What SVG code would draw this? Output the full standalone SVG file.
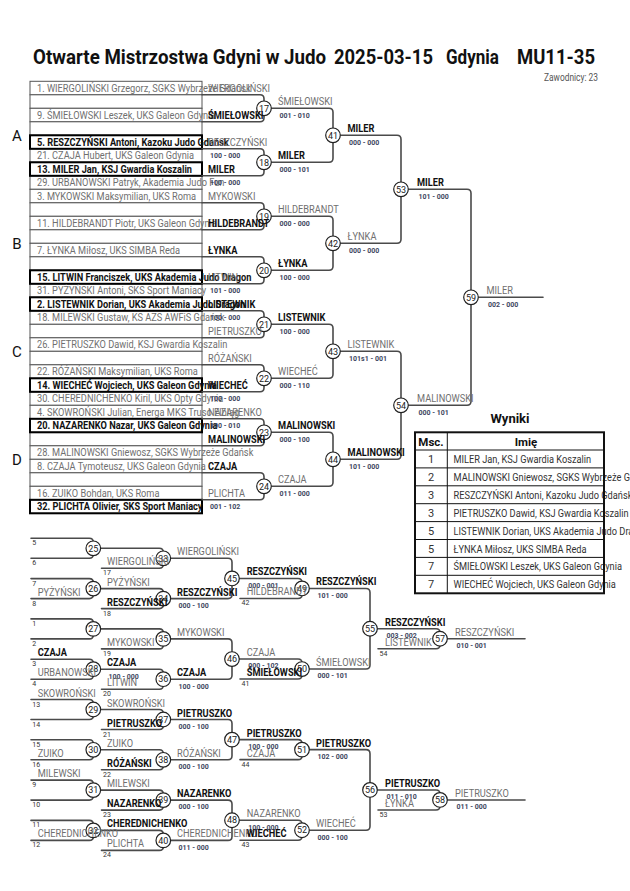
<svg xmlns="http://www.w3.org/2000/svg" width="630" height="891" viewBox="0 0 630 891">
<style>
text{font-family:Roboto,"Liberation Sans",sans-serif}
.ln{fill:none;stroke:#4a4a4a;stroke-width:1.6;stroke-linecap:round}
.cir{fill:#fff;stroke:#222;stroke-width:1.2}
.cn{font-size:9px;fill:#222;text-anchor:middle}
.g{font-size:11px;fill:#707070}
.b{font-size:11px;font-weight:700;fill:#111}
.sc{font-size:7px;font-weight:700;fill:#3d4660}
.sn{font-size:7px;fill:#333}
.row{fill:#fff;stroke:#555;stroke-width:1}
.rowb{fill:none;stroke:#000;stroke-width:2}
.ttl{font-size:19.5px;font-weight:700;fill:#111}
.grp{font-size:15px;fill:#111;text-anchor:middle}
.tb{fill:none;stroke:#111;stroke-width:1}
.tn{font-size:11px;fill:#333}
.th{font-size:11.5px;font-weight:700;fill:#111;text-anchor:middle}
</style>
<rect width="630" height="891" fill="#fff"/>

<g id="title">
<text class="ttl" transform="matrix(.96 0 0 1 33 64.3)">Otwarte Mistrzostwa Gdyni w Judo</text>
<text class="ttl" x="334" y="64.3" textLength="99" lengthAdjust="spacingAndGlyphs">2025-03-15</text>
<text class="ttl" x="446" y="64.3" textLength="53" lengthAdjust="spacingAndGlyphs">Gdynia</text>
<text class="ttl" x="517" y="64.3" textLength="78" lengthAdjust="spacingAndGlyphs">MU11-35</text>
<text style="font-size:10px;fill:#555;text-anchor:end" transform="matrix(.84 0 0 1 598 80.5)">Zawodnicy: 23</text>
</g>

<g id="groups">
<text class="grp" x="17" y="140.5">A</text>
<text class="grp" x="17" y="248.5">B</text>
<text class="grp" x="17" y="356.5">C</text>
<text class="grp" x="17" y="464.5">D</text>
</g>

<g id="draw-table">
<rect class="row" x="30" y="81.3" width="172" height="13.5"/>
<rect class="row" x="30" y="94.8" width="172" height="13.5"/>
<rect class="row" x="30" y="108.3" width="172" height="13.5"/>
<rect class="row" x="30" y="121.8" width="172" height="13.5"/>
<rect class="row" x="30" y="135.3" width="172" height="13.5"/>
<rect class="row" x="30" y="148.8" width="172" height="13.5"/>
<rect class="row" x="30" y="162.3" width="172" height="13.5"/>
<rect class="row" x="30" y="175.8" width="172" height="13.5"/>
<rect class="row" x="30" y="189.3" width="172" height="13.5"/>
<rect class="row" x="30" y="202.8" width="172" height="13.5"/>
<rect class="row" x="30" y="216.3" width="172" height="13.5"/>
<rect class="row" x="30" y="229.8" width="172" height="13.5"/>
<rect class="row" x="30" y="243.3" width="172" height="13.5"/>
<rect class="row" x="30" y="256.8" width="172" height="13.5"/>
<rect class="row" x="30" y="270.3" width="172" height="13.5"/>
<rect class="row" x="30" y="283.8" width="172" height="13.5"/>
<rect class="row" x="30" y="297.3" width="172" height="13.5"/>
<rect class="row" x="30" y="310.8" width="172" height="13.5"/>
<rect class="row" x="30" y="324.3" width="172" height="13.5"/>
<rect class="row" x="30" y="337.8" width="172" height="13.5"/>
<rect class="row" x="30" y="351.3" width="172" height="13.5"/>
<rect class="row" x="30" y="364.8" width="172" height="13.5"/>
<rect class="row" x="30" y="378.3" width="172" height="13.5"/>
<rect class="row" x="30" y="391.8" width="172" height="13.5"/>
<rect class="row" x="30" y="405.3" width="172" height="13.5"/>
<rect class="row" x="30" y="418.8" width="172" height="13.5"/>
<rect class="row" x="30" y="432.3" width="172" height="13.5"/>
<rect class="row" x="30" y="445.8" width="172" height="13.5"/>
<rect class="row" x="30" y="459.3" width="172" height="13.5"/>
<rect class="row" x="30" y="472.8" width="172" height="13.5"/>
<rect class="row" x="30" y="486.3" width="172" height="13.5"/>
<rect class="row" x="30" y="499.8" width="172" height="13.5"/>
<rect class="rowb" x="30" y="135.3" width="172" height="13.5"/>
<rect class="rowb" x="30" y="162.3" width="172" height="13.5"/>
<rect class="rowb" x="30" y="270.3" width="172" height="13.5"/>
<rect class="rowb" x="30" y="297.3" width="172" height="13.5"/>
<rect class="rowb" x="30" y="378.3" width="172" height="13.5"/>
<rect class="rowb" x="30" y="418.8" width="172" height="13.5"/>
<rect class="rowb" x="30" y="499.8" width="172" height="13.5"/>
</g>

<g id="connectors">
<path class="ln" d="M202 94.8H260Q264 94.8 264 98.8V117.8Q264 121.8 260 121.8H202"/>
<path class="ln" d="M202 148.8H260Q264 148.8 264 152.8V171.8Q264 175.8 260 175.8H202"/>
<path class="ln" d="M202 202.8H260Q264 202.8 264 206.8V225.8Q264 229.8 260 229.8H202"/>
<path class="ln" d="M202 256.8H260Q264 256.8 264 260.8V279.8Q264 283.8 260 283.8H202"/>
<path class="ln" d="M202 310.8H260Q264 310.8 264 314.8V333.8Q264 337.8 260 337.8H202"/>
<path class="ln" d="M202 364.8H260Q264 364.8 264 368.8V387.8Q264 391.8 260 391.8H202"/>
<path class="ln" d="M202 418.8H260Q264 418.8 264 422.8V441.8Q264 445.8 260 445.8H202"/>
<path class="ln" d="M202 472.8H260Q264 472.8 264 476.8V495.8Q264 499.8 260 499.8H202"/>
<path class="ln" d="M264 108.3H329Q333 108.3 333 112.3V158.3Q333 162.3 329 162.3H264"/>
<path class="ln" d="M264 216.3H329Q333 216.3 333 220.3V266.3Q333 270.3 329 270.3H264"/>
<path class="ln" d="M264 324.3H329Q333 324.3 333 328.3V374.3Q333 378.3 329 378.3H264"/>
<path class="ln" d="M264 432.3H329Q333 432.3 333 436.3V482.3Q333 486.3 329 486.3H264"/>
<path class="ln" d="M333 135.3H397Q401 135.3 401 139.3V239.3Q401 243.3 397 243.3H333"/>
<path class="ln" d="M333 351.3H397Q401 351.3 401 355.3V455.3Q401 459.3 397 459.3H333"/>
<path class="ln" d="M401 189.3H467Q471 189.3 471 193.3V401.3Q471 405.3 467 405.3H401"/>
<path class="ln" d="M471 297.3H543"/>

<path class="ln" d="M31 538.3H89.3Q93.3 538.3 93.3 542.3V554.3Q93.3 558.3 89.3 558.3H31"/>
<path class="ln" d="M31 578.6H89.3Q93.3 578.6 93.3 582.6V594.6Q93.3 598.6 89.3 598.6H31"/>
<path class="ln" d="M31 618.9H89.3Q93.3 618.9 93.3 622.9V634.9Q93.3 638.9 89.3 638.9H31"/>
<path class="ln" d="M31 659.2H89.3Q93.3 659.2 93.3 663.2V675.2Q93.3 679.2 89.3 679.2H31"/>
<path class="ln" d="M31 699.5H89.3Q93.3 699.5 93.3 703.5V715.5Q93.3 719.5 89.3 719.5H31"/>
<path class="ln" d="M31 739.8H89.3Q93.3 739.8 93.3 743.8V755.8Q93.3 759.8 89.3 759.8H31"/>
<path class="ln" d="M31 780.1H89.3Q93.3 780.1 93.3 784.1V796.1Q93.3 800.1 89.3 800.1H31"/>
<path class="ln" d="M31 820.4H89.3Q93.3 820.4 93.3 824.4V836.4Q93.3 840.4 89.3 840.4H31"/>
<path class="ln" d="M93.3 548.3H159.3Q163.3 548.3 163.3 552.3V564.3Q163.3 568.3 159.3 568.3H101.5"/>
<path class="ln" d="M93.3 588.6H159.3Q163.3 588.6 163.3 592.6V604.6Q163.3 608.6 159.3 608.6H101.5"/>
<path class="ln" d="M93.3 628.9H159.3Q163.3 628.9 163.3 632.9V644.9Q163.3 648.9 159.3 648.9H101.5"/>
<path class="ln" d="M93.3 669.2H159.3Q163.3 669.2 163.3 673.2V685.2Q163.3 689.2 159.3 689.2H101.5"/>
<path class="ln" d="M93.3 709.5H159.3Q163.3 709.5 163.3 713.5V725.5Q163.3 729.5 159.3 729.5H101.5"/>
<path class="ln" d="M93.3 749.8H159.3Q163.3 749.8 163.3 753.8V765.8Q163.3 769.8 159.3 769.8H101.5"/>
<path class="ln" d="M93.3 790.1H159.3Q163.3 790.1 163.3 794.1V806.1Q163.3 810.1 159.3 810.1H101.5"/>
<path class="ln" d="M93.3 830.4H159.3Q163.3 830.4 163.3 834.4V846.4Q163.3 850.4 159.3 850.4H101.5"/>
<path class="ln" d="M163.3 558.3H228Q232 558.3 232 562.3V594.6Q232 598.6 228 598.6H163.3"/>
<path class="ln" d="M163.3 638.9H228Q232 638.9 232 642.9V675.2Q232 679.2 228 679.2H163.3"/>
<path class="ln" d="M163.3 719.5H228Q232 719.5 232 723.5V755.8Q232 759.8 228 759.8H163.3"/>
<path class="ln" d="M163.3 800.1H228Q232 800.1 232 804.1V836.4Q232 840.4 228 840.4H163.3"/>
<path class="ln" d="M232 578.45H298Q302 578.45 302 582.45V594.45Q302 598.45 298 598.45H240"/>
<path class="ln" d="M232 659.05H298Q302 659.05 302 663.05V675.05Q302 679.05 298 679.05H240"/>
<path class="ln" d="M232 739.65H298Q302 739.65 302 743.65V755.65Q302 759.65 298 759.65H240"/>
<path class="ln" d="M232 820.25H298Q302 820.25 302 824.25V836.25Q302 840.25 298 840.25H240"/>
<path class="ln" d="M302 588.45H366Q370 588.45 370 592.45V665.05Q370 669.05 366 669.05H302"/>
<path class="ln" d="M302 749.65H366Q370 749.65 370 753.65V826.25Q370 830.25 366 830.25H302"/>
<path class="ln" d="M370 628.75H436Q440 628.75 440 632.75V644.75Q440 648.75 436 648.75H378"/>
<path class="ln" d="M370 789.95H436Q440 789.95 440 793.95V805.95Q440 809.95 436 809.95H378"/>
<path class="ln" d="M440 638.75H525"/>
<path class="ln" d="M440 799.95H525"/>
</g>

<g id="matches">
<g id="m17"><circle class="cir" cx="264" cy="108.3" r="7.3"/><text class="cn" x="264" y="111.5">17</text></g>
<g id="m18"><circle class="cir" cx="264" cy="162.3" r="7.3"/><text class="cn" x="264" y="165.5">18</text></g>
<g id="m19"><circle class="cir" cx="264" cy="216.3" r="7.3"/><text class="cn" x="264" y="219.5">19</text></g>
<g id="m20"><circle class="cir" cx="264" cy="270.3" r="7.3"/><text class="cn" x="264" y="273.5">20</text></g>
<g id="m21"><circle class="cir" cx="264" cy="324.3" r="7.3"/><text class="cn" x="264" y="327.5">21</text></g>
<g id="m22"><circle class="cir" cx="264" cy="378.3" r="7.3"/><text class="cn" x="264" y="381.5">22</text></g>
<g id="m23"><circle class="cir" cx="264" cy="432.3" r="7.3"/><text class="cn" x="264" y="435.5">23</text></g>
<g id="m24"><circle class="cir" cx="264" cy="486.3" r="7.3"/><text class="cn" x="264" y="489.5">24</text></g>
<g id="m41"><circle class="cir" cx="333" cy="135.3" r="7.3"/><text class="cn" x="333" y="138.5">41</text></g>
<g id="m42"><circle class="cir" cx="333" cy="243.3" r="7.3"/><text class="cn" x="333" y="246.5">42</text></g>
<g id="m43"><circle class="cir" cx="333" cy="351.3" r="7.3"/><text class="cn" x="333" y="354.5">43</text></g>
<g id="m44"><circle class="cir" cx="333" cy="459.3" r="7.3"/><text class="cn" x="333" y="462.5">44</text></g>
<g id="m53"><circle class="cir" cx="401" cy="189.3" r="7.3"/><text class="cn" x="401" y="192.5">53</text></g>
<g id="m54"><circle class="cir" cx="401" cy="405.3" r="7.3"/><text class="cn" x="401" y="408.5">54</text></g>
<g id="m59"><circle class="cir" cx="471" cy="297.3" r="7.3"/><text class="cn" x="471" y="300.5">59</text></g>
<g id="m25"><circle class="cir" cx="93.3" cy="548.3" r="7.3"/><text class="cn" x="93.3" y="551.5">25</text></g>
<g id="m26"><circle class="cir" cx="93.3" cy="588.6" r="7.3"/><text class="cn" x="93.3" y="591.8">26</text></g>
<g id="m27"><circle class="cir" cx="93.3" cy="628.9" r="7.3"/><text class="cn" x="93.3" y="632.1">27</text></g>
<g id="m28"><circle class="cir" cx="93.3" cy="669.2" r="7.3"/><text class="cn" x="93.3" y="672.4">28</text></g>
<g id="m29"><circle class="cir" cx="93.3" cy="709.5" r="7.3"/><text class="cn" x="93.3" y="712.7">29</text></g>
<g id="m30"><circle class="cir" cx="93.3" cy="749.8" r="7.3"/><text class="cn" x="93.3" y="753">30</text></g>
<g id="m31"><circle class="cir" cx="93.3" cy="790.1" r="7.3"/><text class="cn" x="93.3" y="793.3">31</text></g>
<g id="m32"><circle class="cir" cx="93.3" cy="830.4" r="7.3"/><text class="cn" x="93.3" y="833.6">32</text></g>
<g id="m33"><circle class="cir" cx="163.3" cy="558.3" r="7.3"/><text class="cn" x="163.3" y="561.5">33</text></g>
<g id="m34"><circle class="cir" cx="163.3" cy="598.6" r="7.3"/><text class="cn" x="163.3" y="601.8">34</text></g>
<g id="m35"><circle class="cir" cx="163.3" cy="638.9" r="7.3"/><text class="cn" x="163.3" y="642.1">35</text></g>
<g id="m36"><circle class="cir" cx="163.3" cy="679.2" r="7.3"/><text class="cn" x="163.3" y="682.4">36</text></g>
<g id="m37"><circle class="cir" cx="163.3" cy="719.5" r="7.3"/><text class="cn" x="163.3" y="722.7">37</text></g>
<g id="m38"><circle class="cir" cx="163.3" cy="759.8" r="7.3"/><text class="cn" x="163.3" y="763">38</text></g>
<g id="m39"><circle class="cir" cx="163.3" cy="800.1" r="7.3"/><text class="cn" x="163.3" y="803.3">39</text></g>
<g id="m40"><circle class="cir" cx="163.3" cy="840.4" r="7.3"/><text class="cn" x="163.3" y="843.6">40</text></g>
<g id="m45"><circle class="cir" cx="232" cy="578.45" r="7.3"/><text class="cn" x="232" y="581.65">45</text></g>
<g id="m46"><circle class="cir" cx="232" cy="659.05" r="7.3"/><text class="cn" x="232" y="662.25">46</text></g>
<g id="m47"><circle class="cir" cx="232" cy="739.65" r="7.3"/><text class="cn" x="232" y="742.85">47</text></g>
<g id="m48"><circle class="cir" cx="232" cy="820.25" r="7.3"/><text class="cn" x="232" y="823.45">48</text></g>
<g id="m49"><circle class="cir" cx="302" cy="588.45" r="7.3"/><text class="cn" x="302" y="591.65">49</text></g>
<g id="m50"><circle class="cir" cx="302" cy="669.05" r="7.3"/><text class="cn" x="302" y="672.25">50</text></g>
<g id="m51"><circle class="cir" cx="302" cy="749.65" r="7.3"/><text class="cn" x="302" y="752.85">51</text></g>
<g id="m52"><circle class="cir" cx="302" cy="830.25" r="7.3"/><text class="cn" x="302" y="833.45">52</text></g>
<g id="m55"><circle class="cir" cx="370" cy="628.75" r="7.3"/><text class="cn" x="370" y="631.95">55</text></g>
<g id="m56"><circle class="cir" cx="370" cy="789.95" r="7.3"/><text class="cn" x="370" y="793.15">56</text></g>
<g id="m57"><circle class="cir" cx="440" cy="638.75" r="7.3"/><text class="cn" x="440" y="641.95">57</text></g>
<g id="m58"><circle class="cir" cx="440" cy="799.95" r="7.3"/><text class="cn" x="440" y="803.15">58</text></g>
</g>

<g id="entries">
<text class="g" transform="matrix(.84 0 0 1 37 91.9)">1. WIERGOLIŃSKI Grzegorz, SGKS Wybrzeże Gdańsk</text>
<text class="g" transform="matrix(.84 0 0 1 37 118.9)">9. ŚMIEŁOWSKI Leszek, UKS Galeon Gdynia</text>
<text class="b" transform="matrix(.84 0 0 1 37 145.9)">5. RESZCZYŃSKI Antoni, Kazoku Judo Gdańsk</text>
<text class="g" transform="matrix(.84 0 0 1 37 159.4)">21. CZAJA Hubert, UKS Galeon Gdynia</text>
<text class="b" transform="matrix(.84 0 0 1 37 172.9)">13. MILER Jan, KSJ Gwardia Koszalin</text>
<text class="g" transform="matrix(.84 0 0 1 37 186.4)">29. URBANOWSKI Patryk, Akademia Judo Fun</text>
<text class="g" transform="matrix(.84 0 0 1 37 199.9)">3. MYKOWSKI Maksymilian, UKS Roma</text>
<text class="g" transform="matrix(.84 0 0 1 37 226.9)">11. HILDEBRANDT Piotr, UKS Galeon Gdynia</text>
<text class="g" transform="matrix(.84 0 0 1 37 253.9)">7. ŁYNKA Miłosz, UKS SIMBA Reda</text>
<text class="b" transform="matrix(.84 0 0 1 37 280.9)">15. LITWIN Franciszek, UKS Akademia Judo Dragon</text>
<text class="g" transform="matrix(.84 0 0 1 37 294.4)">31. PYŻYŃSKI Antoni, SKS Sport Maniacy</text>
<text class="b" transform="matrix(.84 0 0 1 37 307.9)">2. LISTEWNIK Dorian, UKS Akademia Judo Dragon</text>
<text class="g" transform="matrix(.84 0 0 1 37 321.4)">18. MILEWSKI Gustaw, KS AZS AWFiS Gdańsk</text>
<text class="g" transform="matrix(.84 0 0 1 37 348.4)">26. PIETRUSZKO Dawid, KSJ Gwardia Koszalin</text>
<text class="g" transform="matrix(.84 0 0 1 37 375.4)">22. RÓŻAŃSKI Maksymilian, UKS Roma</text>
<text class="b" transform="matrix(.84 0 0 1 37 388.9)">14. WIECHEĆ Wojciech, UKS Galeon Gdynia</text>
<text class="g" transform="matrix(.84 0 0 1 37 402.4)">30. CHEREDNICHENKO Kiril, UKS Opty Gdynia</text>
<text class="g" transform="matrix(.84 0 0 1 37 415.9)">4. SKOWROŃSKI Julian, Energa MKS Truso Elbląg</text>
<text class="b" transform="matrix(.84 0 0 1 37 429.4)">20. NAZARENKO Nazar, UKS Galeon Gdynia</text>
<text class="g" transform="matrix(.84 0 0 1 37 456.4)">28. MALINOWSKI Gniewosz, SGKS Wybrzeże Gdańsk</text>
<text class="g" transform="matrix(.84 0 0 1 37 469.9)">8. CZAJA Tymoteusz, UKS Galeon Gdynia</text>
<text class="g" transform="matrix(.84 0 0 1 37 496.9)">16. ZUIKO Bohdan, UKS Roma</text>
<text class="b" transform="matrix(.84 0 0 1 37 510.4)">32. PLICHTA Olivier, SKS Sport Maniacy</text>
</g>

<g id="labels-main">
<text class="g" transform="matrix(.84 0 0 1 208 91.9)">WIERGOLIŃSKI</text>
<text class="b" transform="matrix(.84 0 0 1 208 118.9)">ŚMIEŁOWSKI</text>
<text class="g" transform="matrix(.84 0 0 1 208 145.9)">RESZCZYŃSKI</text>
<text class="sc" x="210" y="158">100 - 000</text>
<text class="b" transform="matrix(.84 0 0 1 208 172.9)">MILER</text>
<text class="sc" x="210" y="185">100 - 000</text>
<text class="g" transform="matrix(.84 0 0 1 208 199.9)">MYKOWSKI</text>
<text class="b" transform="matrix(.84 0 0 1 208 226.9)">HILDEBRANDT</text>
<text class="b" transform="matrix(.84 0 0 1 208 253.9)">ŁYNKA</text>
<text class="g" transform="matrix(.84 0 0 1 208 280.9)">LITWIN</text>
<text class="sc" x="210" y="293">101 - 000</text>
<text class="b" transform="matrix(.84 0 0 1 208 307.9)">LISTEWNIK</text>
<text class="sc" x="210" y="320">100 - 000</text>
<text class="g" transform="matrix(.84 0 0 1 208 334.9)">PIETRUSZKO</text>
<text class="g" transform="matrix(.84 0 0 1 208 361.9)">RÓŻAŃSKI</text>
<text class="b" transform="matrix(.84 0 0 1 208 388.9)">WIECHEĆ</text>
<text class="sc" x="210" y="401">100 - 000</text>
<text class="g" transform="matrix(.84 0 0 1 208 415.9)">NAZARENKO</text>
<text class="sc" x="210" y="428">100 - 010</text>
<text class="b" transform="matrix(.84 0 0 1 208 442.9)">MALINOWSKI</text>
<text class="b" transform="matrix(.84 0 0 1 208 469.9)">CZAJA</text>
<text class="g" transform="matrix(.84 0 0 1 208 496.9)">PLICHTA</text>
<text class="sc" x="210" y="509">001 - 102</text>

<text class="g" transform="matrix(.84 0 0 1 278 105.3)">ŚMIEŁOWSKI</text>
<text class="sc" x="279.5" y="117.6">001 - 010</text>
<text class="b" transform="matrix(.84 0 0 1 278 159.3)">MILER</text>
<text class="sc" x="279.5" y="171.6">000 - 101</text>
<text class="g" transform="matrix(.84 0 0 1 278 213.3)">HILDEBRANDT</text>
<text class="sc" x="279.5" y="225.6">000 - 000</text>
<text class="b" transform="matrix(.84 0 0 1 278 267.3)">ŁYNKA</text>
<text class="sc" x="279.5" y="279.6">100 - 000</text>
<text class="b" transform="matrix(.84 0 0 1 278 321.3)">LISTEWNIK</text>
<text class="sc" x="279.5" y="333.6">100 - 000</text>
<text class="g" transform="matrix(.84 0 0 1 278 375.3)">WIECHEĆ</text>
<text class="sc" x="279.5" y="387.6">000 - 110</text>
<text class="b" transform="matrix(.84 0 0 1 278 429.3)">MALINOWSKI</text>
<text class="sc" x="279.5" y="441.6">000 - 100</text>
<text class="g" transform="matrix(.84 0 0 1 278 483.3)">CZAJA</text>
<text class="sc" x="279.5" y="495.6">011 - 000</text>

<text class="b" transform="matrix(.84 0 0 1 347.5 132.3)">MILER</text>
<text class="sc" x="349" y="144.6">000 - 000</text>
<text class="g" transform="matrix(.84 0 0 1 347.5 240.3)">ŁYNKA</text>
<text class="sc" x="349" y="252.6">000 - 000</text>
<text class="g" transform="matrix(.84 0 0 1 347.5 348.3)">LISTEWNIK</text>
<text class="sc" x="349" y="360.6">101s1 - 001</text>
<text class="b" transform="matrix(.84 0 0 1 347.5 456.3)">MALINOWSKI</text>
<text class="sc" x="349" y="468.6">101 - 000</text>

<text class="b" transform="matrix(.84 0 0 1 417 186.3)">MILER</text>
<text class="sc" x="418.5" y="198.6">101 - 000</text>
<text class="g" transform="matrix(.84 0 0 1 417 402.3)">MALINOWSKI</text>
<text class="sc" x="418.5" y="414.6">000 - 101</text>
<text class="g" transform="matrix(.84 0 0 1 486.5 294.3)">MILER</text>
<text class="sc" x="488" y="306.6">002 - 000</text>
</g>

<g id="labels-repechage">
<text class="sn" x="32.3" y="545.3">5</text>
<text class="sn" x="32.3" y="565.3">6</text>
<text class="sn" x="32.3" y="585.6">7</text>
<text class="sn" x="32.3" y="605.6">8</text>
<text class="sn" x="32.3" y="625.9">1</text>
<text class="sn" x="32.3" y="645.9">2</text>
<text class="sn" x="32.3" y="666.2">3</text>
<text class="sn" x="32.3" y="686.2">4</text>
<text class="sn" x="32.3" y="706.5">13</text>
<text class="sn" x="32.3" y="726.5">14</text>
<text class="sn" x="32.3" y="746.8">15</text>
<text class="sn" x="32.3" y="766.8">16</text>
<text class="sn" x="32.3" y="787.1">9</text>
<text class="sn" x="32.3" y="807.1">10</text>
<text class="sn" x="32.3" y="827.4">11</text>
<text class="sn" x="32.3" y="847.4">12</text>
<text class="g" transform="matrix(.84 0 0 1 37.7 595.6)">PYŻYŃSKI</text>
<text class="b" transform="matrix(.84 0 0 1 37.7 656.2)">CZAJA</text>
<text class="g" transform="matrix(.84 0 0 1 37.7 676.2)">URBANOWSKI</text>
<text class="g" transform="matrix(.84 0 0 1 37.7 696.5)">SKOWROŃSKI</text>
<text class="g" transform="matrix(.84 0 0 1 37.7 756.8)">ZUIKO</text>
<text class="g" transform="matrix(.84 0 0 1 37.7 777.1)">MILEWSKI</text>
<text class="g" transform="matrix(.84 0 0 1 37.7 837.4)">CHEREDNICHENKO</text>

<text class="g" transform="matrix(.84 0 0 1 107 585.6)">PYŻYŃSKI</text>
<text class="b" transform="matrix(.84 0 0 1 107 666.2)">CZAJA</text>
<text class="sc" x="108.5" y="678.5">100 - 000</text>
<text class="g" transform="matrix(.84 0 0 1 107 706.5)">SKOWROŃSKI</text>
<text class="g" transform="matrix(.84 0 0 1 107 746.8)">ZUIKO</text>
<text class="g" transform="matrix(.84 0 0 1 107 787.1)">MILEWSKI</text>
<text class="b" transform="matrix(.84 0 0 1 107 827.4)">CHEREDNICHENKO</text>

<text class="g" transform="matrix(.84 0 0 1 107 565.3)">WIERGOLIŃSKI</text>
<text class="sn" x="103" y="575.3">17</text>
<text class="b" transform="matrix(.84 0 0 1 107 605.6)">RESZCZYŃSKI</text>
<text class="sn" x="103" y="615.6">18</text>
<text class="g" transform="matrix(.84 0 0 1 107 645.9)">MYKOWSKI</text>
<text class="sn" x="103" y="655.9">19</text>
<text class="g" transform="matrix(.84 0 0 1 107 686.2)">LITWIN</text>
<text class="sn" x="103" y="696.2">20</text>
<text class="b" transform="matrix(.84 0 0 1 107 726.5)">PIETRUSZKO</text>
<text class="sn" x="103" y="736.5">21</text>
<text class="b" transform="matrix(.84 0 0 1 107 766.8)">RÓŻAŃSKI</text>
<text class="sn" x="103" y="776.8">22</text>
<text class="b" transform="matrix(.84 0 0 1 107 807.1)">NAZARENKO</text>
<text class="sn" x="103" y="817.1">23</text>
<text class="g" transform="matrix(.84 0 0 1 107 847.4)">PLICHTA</text>
<text class="sn" x="103" y="857.4">24</text>

<text class="g" transform="matrix(.84 0 0 1 177 555.3)">WIERGOLIŃSKI</text>
<text class="b" transform="matrix(.84 0 0 1 177 595.6)">RESZCZYŃSKI</text>
<text class="sc" x="178.5" y="607.9">000 - 100</text>
<text class="g" transform="matrix(.84 0 0 1 177 635.9)">MYKOWSKI</text>
<text class="b" transform="matrix(.84 0 0 1 177 676.2)">CZAJA</text>
<text class="sc" x="178.5" y="688.5">100 - 000</text>
<text class="b" transform="matrix(.84 0 0 1 177 716.5)">PIETRUSZKO</text>
<text class="sc" x="178.5" y="728.8">000 - 100</text>
<text class="g" transform="matrix(.84 0 0 1 177 756.8)">RÓŻAŃSKI</text>
<text class="sc" x="178.5" y="769.1">000 - 100</text>
<text class="b" transform="matrix(.84 0 0 1 177 797.1)">NAZARENKO</text>
<text class="sc" x="178.5" y="809.4">000 - 100</text>
<text class="g" transform="matrix(.84 0 0 1 177 837.4)">CHEREDNICHENKO</text>
<text class="sc" x="178.5" y="849.7">011 - 000</text>

<text class="b" transform="matrix(.84 0 0 1 246.7 575.45)">RESZCZYŃSKI</text>
<text class="sc" x="248.2" y="587.75">000 - 001</text>
<text class="g" transform="matrix(.84 0 0 1 246.7 656.05)">CZAJA</text>
<text class="sc" x="248.2" y="668.35">000 - 102</text>
<text class="b" transform="matrix(.84 0 0 1 246.7 736.65)">PIETRUSZKO</text>
<text class="sc" x="248.2" y="748.95">100 - 000</text>
<text class="g" transform="matrix(.84 0 0 1 246.7 817.25)">NAZARENKO</text>
<text class="sc" x="248.2" y="829.55">100 - 000</text>

<text class="g" transform="matrix(.84 0 0 1 246.7 595.45)">HILDEBRANDT</text>
<text class="sn" x="241.5" y="605.45">42</text>
<text class="b" transform="matrix(.84 0 0 1 246.7 676.05)">ŚMIEŁOWSKI</text>
<text class="sn" x="241.5" y="686.05">41</text>
<text class="g" transform="matrix(.84 0 0 1 246.7 756.65)">CZAJA</text>
<text class="sn" x="241.5" y="766.65">44</text>
<text class="b" transform="matrix(.84 0 0 1 246.7 837.25)">WIECHEĆ</text>
<text class="sn" x="241.5" y="847.25">43</text>

<text class="b" transform="matrix(.84 0 0 1 316 585.45)">RESZCZYŃSKI</text>
<text class="sc" x="317.5" y="597.75">101 - 000</text>
<text class="g" transform="matrix(.84 0 0 1 316 666.05)">ŚMIEŁOWSKI</text>
<text class="sc" x="317.5" y="678.35">000 - 101</text>
<text class="b" transform="matrix(.84 0 0 1 316 746.65)">PIETRUSZKO</text>
<text class="sc" x="317.5" y="758.95">102 - 000</text>
<text class="g" transform="matrix(.84 0 0 1 316 827.25)">WIECHEĆ</text>
<text class="sc" x="317.5" y="839.55">000 - 100</text>

<text class="b" transform="matrix(.84 0 0 1 385 625.75)">RESZCZYŃSKI</text>
<text class="sc" x="386.5" y="638.05">003 - 002</text>
<text class="g" transform="matrix(.84 0 0 1 385 645.75)">LISTEWNIK</text>
<text class="sn" x="379.5" y="655.75">54</text>
<text class="b" transform="matrix(.84 0 0 1 385 786.95)">PIETRUSZKO</text>
<text class="sc" x="386.5" y="799.25">011 - 010</text>
<text class="g" transform="matrix(.84 0 0 1 385 806.95)">ŁYNKA</text>
<text class="sn" x="379.5" y="816.95">53</text>

<text class="g" transform="matrix(.84 0 0 1 455 635.75)">RESZCZYŃSKI</text>
<text class="sc" x="456.5" y="648.05">010 - 001</text>
<text class="g" transform="matrix(.84 0 0 1 455 796.95)">PIETRUSZKO</text>
<text class="sc" x="456.5" y="809.25">011 - 000</text>
</g>

<g id="results">
<text style="font-size:13px;font-weight:700;fill:#111;text-anchor:middle" x="510" y="423">Wyniki</text>
<text class="th" x="431" y="445.5">Msc.</text>
<text class="th" x="526" y="445.5">Imię</text>
<text class="tn" x="431" y="463" text-anchor="middle">1</text>
<text class="tn" x="431" y="480.9" text-anchor="middle">2</text>
<text class="tn" x="431" y="498.8" text-anchor="middle">3</text>
<text class="tn" x="431" y="516.7" text-anchor="middle">3</text>
<text class="tn" x="431" y="534.6" text-anchor="middle">5</text>
<text class="tn" x="431" y="552.5" text-anchor="middle">5</text>
<text class="tn" x="431" y="570.4" text-anchor="middle">7</text>
<text class="tn" x="431" y="588.3" text-anchor="middle">7</text>
<text class="tn" transform="matrix(.84 0 0 1 453.5 463)">MILER Jan, KSJ Gwardia Koszalin</text>
<text class="tn" transform="matrix(.84 0 0 1 453.5 480.9)">MALINOWSKI Gniewosz, SGKS Wybrzeże Gdańsk</text>
<text class="tn" transform="matrix(.84 0 0 1 453.5 498.8)">RESZCZYŃSKI Antoni, Kazoku Judo Gdańsk</text>
<text class="tn" transform="matrix(.84 0 0 1 453.5 516.7)">PIETRUSZKO Dawid, KSJ Gwardia Koszalin</text>
<text class="tn" transform="matrix(.84 0 0 1 453.5 534.6)">LISTEWNIK Dorian, UKS Akademia Judo Dragon</text>
<text class="tn" transform="matrix(.84 0 0 1 453.5 552.5)">ŁYNKA Miłosz, UKS SIMBA Reda</text>
<text class="tn" transform="matrix(.84 0 0 1 453.5 570.4)">ŚMIEŁOWSKI Leszek, UKS Galeon Gdynia</text>
<text class="tn" transform="matrix(.84 0 0 1 453.5 588.3)">WIECHEĆ Wojciech, UKS Galeon Gdynia</text>
<path class="tb" d="M415 450H604M415 467.9H604M415 485.8H604M415 503.7H604M415 521.6H604M415 539.5H604M415 557.4H604M415 575.3H604M447.3 432.3V593.3"/>
<rect x="415" y="432.3" width="189" height="161" fill="none" stroke="#111" stroke-width="2"/>
</g>
</svg>
